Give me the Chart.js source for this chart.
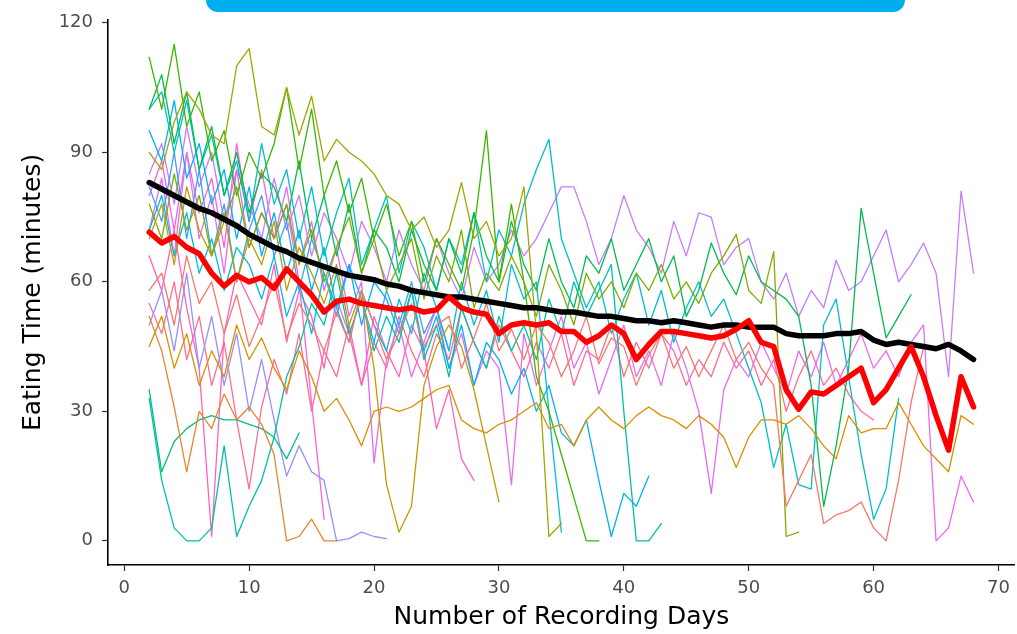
<!DOCTYPE html>
<html>
<head>
<meta charset="utf-8">
<script src="https://cdn.jsdelivr.net/npm/chart.js@4.4.0/dist/chart.umd.min.js"></script>
<style>
    html, body { margin: 0; padding: 0; background: #fff; }
    #wrap { position: relative; width: 1017px; height: 634px; }
    #banner { position: absolute; left: 206px; top: 0; width: 699px; height: 12px; background: #00aeef; border-radius: 0 0 14px 14px; }
</style>
</head>
<body>
<div id="wrap">
    <canvas id="chart" width="1017" height="634"></canvas>
    <div id="banner"></div>
</div>
<script>
// all series start at recording day 2, one value per day
const startDay = 2;
const xTicks = [0, 10, 20, 30, 40, 50, 60, 70];
const yTicks = [0, 30, 60, 90, 120];

const meanLine = [83, 81.5, 80, 78.5, 77, 76, 74.5, 73, 71, 69.5,
    68, 67, 65.5, 64.5, 63.5, 62.5, 61.5, 61, 60.5, 59.5,
    59, 58, 57.5, 57, 56.5, 56.5, 56, 55.5, 55, 54.5,
    54, 54, 53.5, 53, 53, 52.5, 52, 52, 51.5, 51,
    51, 50.5, 51, 50.5, 50, 49.5, 50, 50, 49.5, 49.5,
    49.5, 48, 47.5, 47.5, 47.5, 48, 48, 48.5, 46.5, 45.5,
    46, 45.5, 45, 44.5, 45.5, 44, 42];

const redLine = [71.5, 69, 70.5, 68, 66.5, 62, 59, 61.5, 60, 61,
    58.5, 63, 60, 57, 53, 55.5, 56, 55, 54.5, 54,
    53.5, 54, 53, 53.5, 56.5, 54, 53, 52.5, 48, 50,
    50.5, 50, 50.5, 48.5, 48.5, 46, 47.5, 50, 48, 42,
    45.5, 48.5, 48.5, 48, 47.5, 47, 47.5, 49, 51, 46,
    45, 35, 30.5, 34.5, 34, 36, 38, 40, 32, 35,
    40, 45, 38, 29, 21, 38, 31];

const subjectA = [58, 62, 50, 66, 55, 60, 48, 57, 45, 52,
    60, 47, 55, 50, 44, 53, 46, 58, 50, 42,
    48, 55, 45, 50, 52, 40, 47, 55, 44, 49,
    42, 50, 46, 38, 44, 52, 41, 47, 45, 36,
    43, 48, 40, 45, 38, 44, 50, 42, 46, 40,
    36, 8, 14, 20, 4, 6, 7, 9, 3, 0,
    14, 32, 45];
const subjectB = [52, 44, 31, 16, 30, 26, 34, 28, 31, 27, 20, 0, 1, 5, 0, 0];
const subjectC = [45, 52, 40, 48, 36, 44, 38, 50, 42, 47,
    40, 35, 44, 38, 30, 33, 28, 22, 30, 31,
    30, 31, 33, 35, 36, 28, 26, 25, 27, 28,
    30, 32, 26, 27, 22, 28, 31, 28, 26, 29,
    31, 29, 28, 26, 29, 27, 24, 17, 24, 28,
    28, 27, 29, 26, 22, 19, 29, 25, 26, 26,
    32, 27, 22, 19, 16, 29, 27];
const subjectD = [70, 78, 64, 82, 72, 66, 76, 60, 70, 64,
    74, 58, 68, 62, 55, 64, 50, 58, 40, 13,
    2, 8, 36, 45, 50, 45, 35, 22, 9];
const subjectE = [90, 86, 97, 104, 100, 94, 92, 110, 114, 96,
    94, 105, 94, 103, 88, 93, 90, 88, 85, 80,
    78, 72, 75, 68, 72, 83, 70, 74, 66, 70,
    82, 48, 1, 4];
const subjectF = [78, 70, 85, 72, 80, 66, 74, 82, 68, 76,
    70, 78, 64, 72, 60, 68, 75, 62, 70, 58,
    64, 70, 56, 66, 60, 72, 54, 62, 58, 66,
    60, 52, 64, 58, 50, 62, 56, 60, 54, 62,
    58, 64, 56, 60, 55, 62, 66, 71, 58, 55,
    67, 1, 2];
const subjectG = [112, 100, 115, 96, 104, 88, 95, 80, 90, 84,
    92, 105, 86, 100, 80, 88, 76, 84, 70, 78,
    66, 74, 60, 70, 64, 58, 72, 95, 60, 78,
    60, 38, 30, 20, 10, 0, 0];
const subjectH = [100, 108, 92, 104, 86, 96, 80, 90, 76, 85,
    82, 74, 88, 70, 80, 66, 78, 62, 72, 68,
    60, 72, 64, 58, 70, 62, 76, 66, 60, 74,
    64, 58, 70, 60, 54, 66, 62, 70, 58, 64,
    70, 60, 66, 52, 58, 69, 62, 57, 66, 60,
    58, 56, 52, 36, 8, 22, 40, 77, 62, 47,
    52, 57];
const subjectI = [35, 16, 23, 26, 28, 29, 28, 28, 27, 26, 24, 19, 25];
const subjectJ = [33, 14, 3, 0, 0, 3, 22, 1, 8, 14,
    24, 38, 45, 55, 50, 62, 48, 56, 44, 52,
    46, 58, 42, 50, 38, 54, 46, 40, 52, 44,
    50, 42, 56, 48, 60, 52, 58, 64, 30, 0,
    0, 4];
const subjectK = [100, 104, 90, 102, 86, 94, 80, 88, 74, 92,
    78, 86, 70, 82, 66, 76, 84, 64, 72, 80,
    62, 74, 68, 58, 70, 64, 76, 60, 72, 66,
    78, 86, 93, 70, 62, 54, 60, 48, 56, 62,
    50, 58, 46, 54, 60, 52, 56, 48, 40, 32,
    17, 27, 13, 12, 50, 56, 38, 20, 5, 12, 33];
const subjectL = [72, 80, 66, 76, 62, 70, 58, 68, 64, 56,
    66, 52, 60, 48, 62, 54, 46, 58, 50, 44,
    56, 48, 62, 54, 44, 60, 50, 58, 46, 64,
    56, 60, 30, 2];
const subjectM = [95, 88, 102, 84, 92, 78, 86, 70, 82, 66,
    76, 62, 72, 58, 68, 54, 64, 50, 60, 56,
    48, 58, 44, 52, 40, 50, 36, 46, 42, 34,
    40, 30, 36, 25, 22, 28, 14, 1, 11, 8, 15];
const subjectN = [82, 74, 90, 70, 86, 66, 78, 60, 72, 80,
    66, 74, 58, 70, 62, 52, 64, 56, 46, 58,
    50, 60, 48, 54, 44];
const subjectO = [50, 58, 44, 62, 40, 52, 36, 48, 30, 42,
    28, 15, 22, 16, 14, 0, 0.5, 2, 1, 0.5];
const subjectP = [85, 92, 78, 96, 82, 90, 74, 86, 78, 70,
    84, 72, 80, 66, 76, 70, 62, 74, 68, 60,
    72, 64, 58, 70, 62, 56, 68, 60, 64, 72,
    66, 70, 76, 82, 82, 74, 64, 70, 80, 72,
    68, 62, 74, 66, 76, 75, 64, 68, 70, 60,
    56, 62, 52, 58, 54, 65, 58, 60, 66, 72,
    60, 64, 69, 62, 38, 81, 62];
const subjectQ = [72, 84, 66, 90, 70, 80, 62, 86, 68, 76,
    70, 82, 64, 74, 58, 68, 52, 60, 18, 42,
    50, 38, 46, 54, 40, 48, 36, 44, 40, 13,
    48, 36, 44, 52, 40, 46, 34, 42, 50, 38,
    44, 36, 48, 40, 30, 11, 35, 42, 38, 46,
    40, 34, 44, 38, 46, 36, 42, 48, 40, 44,
    38, 46, 50, 0, 3, 15, 9];
const subjectR = [80, 88, 72, 90, 76, 84, 68, 92, 74, 86, 70, 78, 60, 32, 5];
const subjectS = [66, 58, 72, 54, 40, 1, 48, 62, 56, 50,
    64, 46, 58, 52, 40, 56, 48, 36, 52, 44,
    38, 50, 44, 26, 35, 19, 14];
const subjectT = [55, 48, 60, 42, 52, 36, 46, 28, 12, 31,
    42, 34, 48, 30, 44, 38, 50, 36, 46, 40,
    52, 44, 38, 48, 42, 54, 46, 40, 50, 44,
    38, 46, 40, 48, 36, 44, 42, 50, 38, 46,
    40, 48, 44, 36, 42, 38, 46, 40, 44, 36,
    42, 30, 38, 44, 36, 40, 34, 30, 28];

const subjects = [subjectA, subjectB, subjectC, subjectD, subjectE, subjectF, subjectG, subjectH, subjectI, subjectJ,
    subjectK, subjectL, subjectM, subjectN, subjectO, subjectP, subjectQ, subjectR, subjectS, subjectT];
const subjectColors = ['#F8766D', '#EA8331', '#D89000', '#C09B00', '#A3A500', '#7CAE00', '#39B600', '#00BB4E', '#00BF7D', '#00C1A3',
    '#00BFC4', '#00BAE0', '#00B0F6', '#35A2FF', '#9590FF', '#C77CFF', '#E76BF3', '#FA62DB', '#FF62BC', '#FF6C91'];

function toPoints(values) {
    return values.map((v, i) => ({ x: startDay + i, y: v }));
}

const datasets = [];
// red and black go first so they end up on top
datasets.push({ data: toPoints(redLine), borderColor: '#ff0000', borderWidth: 5.5, order: 0 });
datasets.push({ data: toPoints(meanLine), borderColor: '#000000', borderWidth: 5.5, order: 1 });
subjects.forEach(function (values, i) {
    datasets.push({ data: toPoints(values), borderColor: subjectColors[i], borderWidth: 1.3, order: 2 + i });
});

const tickFont = { family: 'DejaVu Sans', size: 18 };

new Chart(document.getElementById('chart').getContext('2d'), {
    type: 'line',
    data: { datasets: datasets },
    options: {
        responsive: false,
        animation: false,
        devicePixelRatio: 1,
        layout: { padding: { top: 18, right: 2, left: 0, bottom: 0 } },
        elements: {
            point: { radius: 0 },
            line: { tension: 0, borderJoinStyle: 'round', borderCapStyle: 'round', fill: false }
        },
        plugins: { legend: { display: false }, tooltip: { enabled: false } },
        scales: {
            x: {
                type: 'linear',
                min: -1.3,
                max: 71.3,
                afterBuildTicks: function (axis) { axis.ticks = xTicks.map(v => ({ value: v })); },
                afterFit: function (axis) { axis.height = 69; },
                grid: { drawOnChartArea: false, drawTicks: true, tickLength: 6, tickColor: '#333', tickWidth: 1.2 },
                border: { display: true, color: '#000', width: 1.6 },
                ticks: { font: tickFont, color: '#4d4d4d', padding: 7, maxRotation: 0 },
                title: { display: true, text: 'Number of Recording Days', color: '#000', font: { family: 'DejaVu Sans', size: 25 }, padding: { top: 0, bottom: 2 } }
            },
            y: {
                type: 'linear',
                min: -5.6,
                max: 120.7,
                afterBuildTicks: function (axis) { axis.ticks = yTicks.map(v => ({ value: v })); },
                afterFit: function (axis) { axis.width = 108; },
                grid: { drawOnChartArea: false, drawTicks: true, tickLength: 6, tickColor: '#333', tickWidth: 1.2 },
                border: { display: true, color: '#000', width: 1.6 },
                ticks: { font: tickFont, color: '#4d4d4d', padding: 9 },
                title: { display: true, text: 'Eating Time (minutes)', color: '#000', font: { family: 'DejaVu Sans', size: 25 }, padding: { top: 18, bottom: 0 } }
            }
        }
    }
});
</script>
</body>
</html>
